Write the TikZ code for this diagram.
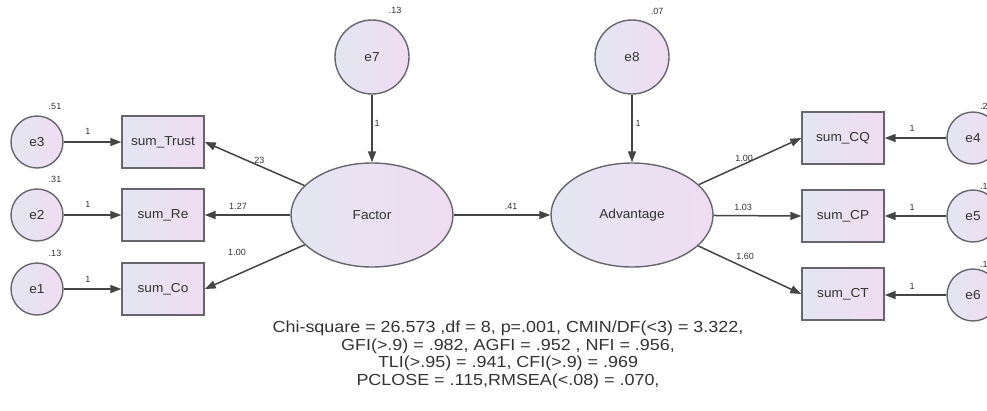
\documentclass[tikz,border=0pt]{standalone}
\usepackage{fontspec}
\setmainfont{Liberation Sans}
\newfontfamily\widefont[FakeStretch=1.12]{Liberation Sans}
\newfontfamily\nodefont[FakeStretch=1.05]{Liberation Sans}
\usetikzlibrary{shapes.geometric,arrows.meta}
\definecolor{edgec}{HTML}{66666C}
\definecolor{linec}{HTML}{454545}
\definecolor{fillL}{HTML}{E4E6F2}
\definecolor{fillR}{HTML}{F0DCF2}
\definecolor{txtc}{HTML}{333333}
\tikzset{
  shaded/.style={draw=edgec, line width=1.4pt, left color=fillL, right color=fillR},
  latent/.style={shaded, ellipse, minimum width=162pt, minimum height=104pt, inner sep=0pt, font=\nodefont\fontsize{13}{14}\selectfont, text=txtc},
  errc/.style={shaded, circle, minimum size=52pt, inner sep=0pt, font=\nodefont\fontsize{13}{14}\selectfont, text=txtc},
  errbig/.style={shaded, circle, minimum size=74pt, inner sep=0pt, font=\nodefont\fontsize{13}{14}\selectfont, text=txtc},
  obs/.style={shaded, rectangle, minimum width=82pt, minimum height=52pt, inner sep=0pt, font=\nodefont\fontsize{13}{14}\selectfont, text=txtc},
  arr/.style={draw=linec, line width=1.5pt, -{Triangle[length=11pt,width=8pt]}},
  lab/.style={font=\fontsize{9}{10}\selectfont, text=txtc, inner sep=0pt},
  fit/.style={font=\widefont\fontsize{16}{17.5}\selectfont, text=txtc, align=center, inner sep=0pt}
}
\begin{document}
\begin{tikzpicture}[x=1pt,y=-1pt]
\useasboundingbox[fill=white] (0,0) rectangle (987,410);
% left error terms
\node[errc] (e3) at (37,142) {e3};
\node[errc] (e2) at (37,215) {e2};
\node[errc] (e1) at (37,289) {e1};
% left indicators
\node[obs] (st) at (163,142) {sum\_Trust};
\node[obs] (sr) at (163,215) {sum\_Re};
\node[obs] (sc) at (163,289) {sum\_Co};
% latent
\node[latent] (fac) at (372,215) {Factor};
\node[latent] (adv) at (632,215) {Advantage};
\node[errbig] (e7) at (372,57) {e7};
\node[errbig] (e8) at (632,57) {e8};
% right indicators
\node[obs] (cq) at (843,138) {sum\_CQ};
\node[obs] (cp) at (843,216) {sum\_CP};
\node[obs] (ct) at (843,294) {sum\_CT};
\node[errc] (e4) at (973,138) {e4};
\node[errc] (e5) at (973,216) {e5};
\node[errc] (e6) at (973,295) {e6};
% paths
\draw[arr] (e3) -- (st);
\draw[arr] (e2) -- (sr);
\draw[arr] (e1) -- (sc);
\draw[arr] (fac) -- (st.east);
\draw[arr] (fac) -- (sr.east);
\draw[arr] (fac) -- (sc.east);
\draw[arr] (e7) -- (fac);
\draw[arr] (e8) -- (adv);
\draw[arr] (fac) -- (adv);
\draw[arr] (adv) -- (cq.west);
\draw[arr] (adv) -- (cp.west);
\draw[arr] (adv) -- (ct.west);
\draw[arr] (e4) -- (cq);
\draw[arr] (e5) -- (cp);
\draw[arr] (e6.west) -- (ct.east |- e6.west);
% labels
\node[lab] (v3) at (55,106) {.51};
\node[lab] (v2) at (55,179) {.31};
\node[lab] (v1) at (55,253) {.13};
\node[lab] (v7) at (395,10) {.13};
\node[lab] (v8) at (657,11) {.07};
\node[lab,anchor=west] (v4) at (980,106) {.2};
\node[lab,anchor=west] (v5) at (980,186) {.1};
\node[lab,anchor=west] (v6) at (980,264) {.1};
\node[lab] (l3) at (88,131) {1};
\node[lab] (l2) at (88,204) {1};
\node[lab] (l1) at (88,279) {1};
\node[lab] (l4) at (912,128) {1};
\node[lab] (l5) at (912,207) {1};
\node[lab] (l6) at (912,286) {1};
\node[lab] (l7) at (377,123) {1};
\node[lab] (l8) at (638,123) {1};
\node[lab] (lt) at (258,160) {.23};
\node[lab] (lr) at (238,206) {1.27};
\node[lab] (lc) at (237,252) {1.00};
\node[lab] (lfa) at (511,206) {.41};
\node[lab] (lq) at (744,158) {1.00};
\node[lab] (lp) at (743,207) {1.03};
\node[lab] (lct) at (745,256) {1.60};
% fit indices
\node[fit] (fitidx) at (508,355) {Chi-square = 26.573 ,df = 8, p=.001, CMIN/DF(<3) = 3.322,\\
GFI(>.9) = .982, AGFI = .952 , NFI = .956,\\
TLI(>.95) = .941, CFI(>.9) = .969\\
PCLOSE = .115,RMSEA(<.08) = .070,};
\end{tikzpicture}
\end{document}
